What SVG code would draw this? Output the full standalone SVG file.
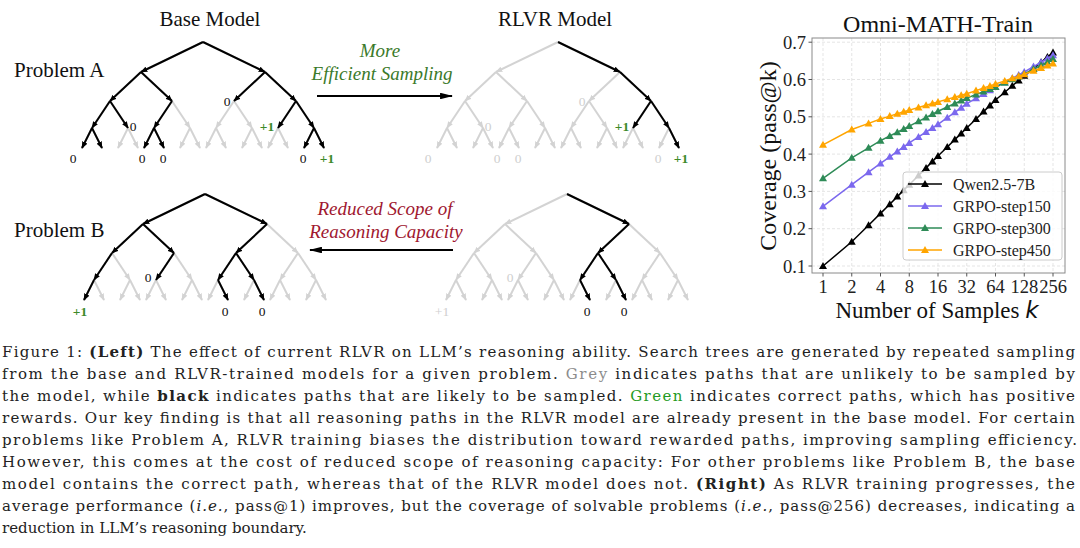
<svg xmlns="http://www.w3.org/2000/svg" xmlns:xlink="http://www.w3.org/1999/xlink" width="1080" height="548" viewBox="0 0 1080 548">
<style>
.k{stroke:#000;stroke-width:2;marker-end:url(#ahk)}
.lbl{font-family:"Liberation Serif",serif;font-size:13.5px;text-anchor:middle;opacity:0.999}
.lk{fill:#111}
.lg{fill:#cfcfcf}
.lp{fill:#3d8a2a;font-weight:bold}
.ttl{font-family:"Liberation Serif",serif;font-size:21px;fill:#111}
.it{font-family:"Liberation Serif",serif;font-size:19px;font-style:italic;text-anchor:middle}
.tick{font-family:"Liberation Serif",serif;font-size:18.5px;fill:#222}
.grid{stroke:#dedede;stroke-width:0.8;stroke-dasharray:3,2}
.leg{font-family:"Liberation Serif",serif;font-size:16px;fill:#222}
.cap{font-family:"DejaVu Serif",serif;font-size:15px;fill:#222}
</style>
<defs>
<marker id="ahk" viewBox="0 0 10 8" refX="9" refY="4" markerWidth="7" markerHeight="6" markerUnits="userSpaceOnUse" orient="auto"><path d="M0,0 L10,4 L0,8 z" fill="#000"/></marker>
<marker id="ahg" viewBox="0 0 10 8" refX="9" refY="4" markerWidth="7" markerHeight="6" markerUnits="userSpaceOnUse" orient="auto"><path d="M0,0 L10,4 L0,8 z" fill="#d3d3d3"/></marker>
<marker id="ahbig" viewBox="0 0 12 6" refX="11" refY="3" markerWidth="13" markerHeight="6.5" markerUnits="userSpaceOnUse" orient="auto"><path d="M0,0 L12,3 L0,6 z" fill="#000"/></marker>
<marker id="mk" viewBox="-5 -5 10 10" refX="0" refY="0" markerWidth="10" markerHeight="10" markerUnits="userSpaceOnUse" orient="0"><path d="M0,-4 L4,3 L-4,3 z" fill="#000"/></marker>
<marker id="mp" viewBox="-5 -5 10 10" refX="0" refY="0" markerWidth="10" markerHeight="10" markerUnits="userSpaceOnUse" orient="0"><path d="M0,-4 L4,3 L-4,3 z" fill="#7b68ee"/></marker>
<marker id="mg" viewBox="-5 -5 10 10" refX="0" refY="0" markerWidth="10" markerHeight="10" markerUnits="userSpaceOnUse" orient="0"><path d="M0,-4 L4,3 L-4,3 z" fill="#2e8b57"/></marker>
<marker id="mo" viewBox="-5 -5 10 10" refX="0" refY="0" markerWidth="10" markerHeight="10" markerUnits="userSpaceOnUse" orient="0"><path d="M0,-4 L4,3 L-4,3 z" fill="#ffa500"/></marker>
<g id="tree" stroke="#d3d3d3" stroke-width="2" marker-end="url(#ahg)">
<line x1="203" y1="42" x2="141" y2="72"/>
<line x1="203" y1="42" x2="265" y2="72"/>
<line x1="141" y1="72" x2="110" y2="101"/>
<line x1="141" y1="72" x2="172" y2="101"/>
<line x1="265" y1="72" x2="234" y2="101"/>
<line x1="265" y1="72" x2="296" y2="101"/>
<line x1="110" y1="101" x2="92" y2="128"/>
<line x1="110" y1="101" x2="128" y2="128"/>
<line x1="172" y1="101" x2="154" y2="128"/>
<line x1="172" y1="101" x2="190" y2="128"/>
<line x1="234" y1="101" x2="216" y2="128"/>
<line x1="234" y1="101" x2="252" y2="128"/>
<line x1="296" y1="101" x2="278" y2="128"/>
<line x1="296" y1="101" x2="314" y2="128"/>
<line x1="92" y1="128" x2="82" y2="148"/>
<line x1="92" y1="128" x2="102" y2="148"/>
<line x1="128" y1="128" x2="118" y2="148"/>
<line x1="128" y1="128" x2="138" y2="148"/>
<line x1="154" y1="128" x2="144" y2="148"/>
<line x1="154" y1="128" x2="164" y2="148"/>
<line x1="190" y1="128" x2="180" y2="148"/>
<line x1="190" y1="128" x2="200" y2="148"/>
<line x1="216" y1="128" x2="206" y2="148"/>
<line x1="216" y1="128" x2="226" y2="148"/>
<line x1="252" y1="128" x2="242" y2="148"/>
<line x1="252" y1="128" x2="262" y2="148"/>
<line x1="278" y1="128" x2="268" y2="148"/>
<line x1="278" y1="128" x2="288" y2="148"/>
<line x1="314" y1="128" x2="304" y2="148"/>
<line x1="314" y1="128" x2="324" y2="148"/>
</g>
</defs>

<text class="ttl" x="210" y="26" text-anchor="middle">Base Model</text>
<text class="ttl" x="555" y="26" text-anchor="middle">RLVR Model</text>
<text class="ttl" x="14" y="77">Problem A</text>
<text class="ttl" x="14" y="237">Problem B</text>

<g id="base-a">
<use xlink:href="#tree" href="#tree"/>
<line class="k" x1="203" y1="42" x2="141" y2="72"/>
<line class="k" x1="203" y1="42" x2="265" y2="72"/>
<line class="k" x1="141" y1="72" x2="110" y2="101"/>
<line class="k" x1="141" y1="72" x2="172" y2="101"/>
<line class="k" x1="265" y1="72" x2="234" y2="101"/>
<line class="k" x1="265" y1="72" x2="296" y2="101"/>
<line class="k" x1="110" y1="101" x2="92" y2="128"/>
<line class="k" x1="110" y1="101" x2="128" y2="128"/>
<line class="k" x1="172" y1="101" x2="154" y2="128"/>
<line class="k" x1="296" y1="101" x2="278" y2="128"/>
<line class="k" x1="296" y1="101" x2="314" y2="128"/>
<line class="k" x1="92" y1="128" x2="82" y2="148"/>
<line class="k" x1="92" y1="128" x2="102" y2="148"/>
<line class="k" x1="154" y1="128" x2="144" y2="148"/>
<line class="k" x1="154" y1="128" x2="164" y2="148"/>
<line class="k" x1="314" y1="128" x2="304" y2="148"/>
<line class="k" x1="314" y1="128" x2="324" y2="148"/>
<text class="lbl lk" x="73" y="163">0</text>
<text class="lbl lk" x="142" y="163">0</text>
<text class="lbl lk" x="163" y="163">0</text>
<text class="lbl lk" x="133" y="131">0</text>
<text class="lbl lk" x="227" y="106">0</text>
<text class="lbl lp" x="267" y="131">+1</text>
<text class="lbl lk" x="303" y="163">0</text>
<text class="lbl lp" x="327" y="163">+1</text>
</g>

<g id="rlvr-a" transform="translate(355,0)">
<use xlink:href="#tree" href="#tree"/>
<line class="k" x1="203" y1="42" x2="265" y2="72"/>
<line class="k" x1="265" y1="72" x2="296" y2="101"/>
<line class="k" x1="296" y1="101" x2="278" y2="128"/>
<line class="k" x1="296" y1="101" x2="314" y2="128"/>
<line class="k" x1="314" y1="128" x2="324" y2="148"/>
<text class="lbl lg" x="73" y="163">0</text>
<text class="lbl lg" x="142" y="163">0</text>
<text class="lbl lg" x="163" y="163">0</text>
<text class="lbl lg" x="133" y="131">0</text>
<text class="lbl lg" x="227" y="106">0</text>
<text class="lbl lp" x="267" y="131">+1</text>
<text class="lbl lg" x="303" y="163">0</text>
<text class="lbl lp" x="326" y="163">+1</text>
</g>

<g id="base-b" transform="translate(2,152)">
<use xlink:href="#tree" href="#tree"/>
<line class="k" x1="203" y1="42" x2="141" y2="72"/>
<line class="k" x1="203" y1="42" x2="265" y2="72"/>
<line class="k" x1="141" y1="72" x2="110" y2="101"/>
<line class="k" x1="141" y1="72" x2="172" y2="101"/>
<line class="k" x1="265" y1="72" x2="234" y2="101"/>
<line class="k" x1="110" y1="101" x2="92" y2="128"/>
<line class="k" x1="172" y1="101" x2="154" y2="128"/>
<line class="k" x1="234" y1="101" x2="216" y2="128"/>
<line class="k" x1="234" y1="101" x2="252" y2="128"/>
<line class="k" x1="92" y1="128" x2="82" y2="148"/>
<line class="k" x1="216" y1="128" x2="226" y2="148"/>
<line class="k" x1="252" y1="128" x2="262" y2="148"/>
<text class="lbl lp" x="78" y="164">+1</text>
<text class="lbl lk" x="146" y="130">0</text>
<text class="lbl lk" x="223" y="164">0</text>
<text class="lbl lk" x="260" y="164">0</text>
</g>

<g id="rlvr-b" transform="translate(364,152)">
<use xlink:href="#tree" href="#tree"/>
<line class="k" x1="203" y1="42" x2="265" y2="72"/>
<line class="k" x1="265" y1="72" x2="234" y2="101"/>
<line class="k" x1="234" y1="101" x2="216" y2="128"/>
<line class="k" x1="234" y1="101" x2="252" y2="128"/>
<line class="k" x1="216" y1="128" x2="226" y2="148"/>
<line class="k" x1="252" y1="128" x2="262" y2="148"/>
<text class="lbl lg" x="78" y="164">+1</text>
<text class="lbl lg" x="146" y="130">0</text>
<text class="lbl lk" x="223" y="164">0</text>
<text class="lbl lk" x="260" y="164">0</text>
</g>

<g id="connectors">
<line x1="317" y1="96" x2="452" y2="96" stroke="#000" stroke-width="1.8" marker-end="url(#ahbig)"/>
<line x1="453" y1="250" x2="310" y2="250" stroke="#000" stroke-width="1.8" marker-end="url(#ahbig)"/>
</g>
<g id="arrow-labels">
<text class="it" x="380" y="57" fill="#3b7a2a">More</text>
<text class="it" x="382" y="80" fill="#3b7a2a">Efficient Sampling</text>
<text class="it" x="385" y="215" fill="#a01830">Reduced Scope of</text>
<text class="it" x="386" y="238" fill="#a01830">Reasoning Capacity</text>
</g>

<g id="chart">
<text x="938" y="32" text-anchor="middle" font-family="Liberation Serif, serif" font-size="24" fill="#111">Omni-MATH-Train</text>
<g class="grid">
<line x1="812" y1="266" x2="1065" y2="266"/>
<line x1="812" y1="228.7" x2="1065" y2="228.7"/>
<line x1="812" y1="191.4" x2="1065" y2="191.4"/>
<line x1="812" y1="154.1" x2="1065" y2="154.1"/>
<line x1="812" y1="116.8" x2="1065" y2="116.8"/>
<line x1="812" y1="79.5" x2="1065" y2="79.5"/>
<line x1="812" y1="42.2" x2="1065" y2="42.2"/>
<line x1="823" y1="38" x2="823" y2="273"/>
<line x1="851.75" y1="38" x2="851.75" y2="273"/>
<line x1="880.5" y1="38" x2="880.5" y2="273"/>
<line x1="909.25" y1="38" x2="909.25" y2="273"/>
<line x1="938" y1="38" x2="938" y2="273"/>
<line x1="966.75" y1="38" x2="966.75" y2="273"/>
<line x1="995.5" y1="38" x2="995.5" y2="273"/>
<line x1="1024.25" y1="38" x2="1024.25" y2="273"/>
<line x1="1053" y1="38" x2="1053" y2="273"/>
</g>
<rect x="812" y="38" width="253" height="235" fill="none" stroke="#8a8a8a" stroke-width="1"/>
<g stroke="#555" stroke-width="1">
<line x1="808.5" y1="266" x2="812" y2="266"/>
<line x1="808.5" y1="228.7" x2="812" y2="228.7"/>
<line x1="808.5" y1="191.4" x2="812" y2="191.4"/>
<line x1="808.5" y1="154.1" x2="812" y2="154.1"/>
<line x1="808.5" y1="116.8" x2="812" y2="116.8"/>
<line x1="808.5" y1="79.5" x2="812" y2="79.5"/>
<line x1="808.5" y1="42.2" x2="812" y2="42.2"/>
<line x1="823" y1="273" x2="823" y2="276.5"/>
<line x1="851.75" y1="273" x2="851.75" y2="276.5"/>
<line x1="880.5" y1="273" x2="880.5" y2="276.5"/>
<line x1="909.25" y1="273" x2="909.25" y2="276.5"/>
<line x1="938" y1="273" x2="938" y2="276.5"/>
<line x1="966.75" y1="273" x2="966.75" y2="276.5"/>
<line x1="995.5" y1="273" x2="995.5" y2="276.5"/>
<line x1="1024.25" y1="273" x2="1024.25" y2="276.5"/>
<line x1="1053" y1="273" x2="1053" y2="276.5"/>
</g>
<g class="tick" text-anchor="end">
<text x="806" y="272.5">0.1</text>
<text x="806" y="235.2">0.2</text>
<text x="806" y="197.9">0.3</text>
<text x="806" y="160.6">0.4</text>
<text x="806" y="123.3">0.5</text>
<text x="806" y="86">0.6</text>
<text x="806" y="48.7">0.7</text>
</g>
<g class="tick" text-anchor="middle">
<text x="823" y="293">1</text>
<text x="851.75" y="293">2</text>
<text x="880.5" y="293">4</text>
<text x="909.25" y="293">8</text>
<text x="938" y="293">16</text>
<text x="966.75" y="293">32</text>
<text x="995.5" y="293">64</text>
<text x="1024.25" y="293">128</text>
<text x="1053" y="293">256</text>
</g>
<text x="937" y="318" text-anchor="middle" font-family="Liberation Serif, serif" font-size="23" fill="#111">Number of Samples <tspan font-family="DejaVu Sans, sans-serif" font-style="italic">k</tspan></text>
<text transform="translate(776,156) rotate(-90)" text-anchor="middle" font-family="Liberation Serif, serif" font-size="24" fill="#111">Coverage (pass@k)</text>

<g fill="none" stroke-width="1.5">
<polyline stroke="#000" marker-start="url(#mk)" marker-mid="url(#mk)" marker-end="url(#mk)" points="823,266.0 851.75,241.8 868.57,225.2 880.5,213.4 889.76,204.2 897.32,196.6 903.71,190.2 909.25,184.7 918.51,175.5 926.07,167.9 932.46,161.5 938,156.0 947.26,147.0 954.82,139.6 961.21,133.4 966.75,128.0 976.01,119.0 983.57,111.6 989.96,105.4 995.5,100.0 1004.76,92.2 1012.32,85.8 1018.71,80.5 1024.25,75.8 1033.51,68.3 1041.07,62.2 1047.46,57.1 1053,52.6"/>
<polyline stroke="#7b68ee" marker-start="url(#mp)" marker-mid="url(#mp)" marker-end="url(#mp)" points="823,206.3 851.75,184.7 868.57,172.2 880.5,163.4 889.76,156.8 897.32,151.4 903.71,146.9 909.25,142.9 918.51,136.9 926.07,132.0 932.46,127.9 938,124.3 947.26,117.7 954.82,112.3 961.21,107.7 966.75,103.7 976.01,98.3 983.57,93.9 989.96,90.2 995.5,87.0 1004.76,82.2 1012.32,78.2 1018.71,74.9 1024.25,72.0 1033.51,66.6 1041.07,62.2 1047.46,58.5 1053,55.3"/>
<polyline stroke="#2e8b57" marker-start="url(#mg)" marker-mid="url(#mg)" marker-end="url(#mg)" points="823,178.3 851.75,157.8 868.57,147.8 880.5,140.7 889.76,136.0 897.32,132.2 903.71,128.9 909.25,126.1 918.51,121.3 926.07,117.4 932.46,114.1 938,111.2 947.26,107.0 954.82,103.5 961.21,100.6 966.75,98.1 976.01,94.5 983.57,91.6 989.96,89.1 995.5,87.0 1004.76,82.8 1012.32,79.3 1018.71,76.4 1024.25,73.9 1033.51,69.1 1041.07,65.2 1047.46,61.9 1053,59.0"/>
<polyline stroke="#ffa500" marker-start="url(#mo)" marker-mid="url(#mo)" marker-end="url(#mo)" points="823,144.8 851.75,129.5 868.57,123.4 880.5,119.0 889.76,116.1 897.32,113.8 903.71,111.8 909.25,110.1 918.51,107.5 926.07,105.3 932.46,103.5 938,101.9 947.26,99.3 954.82,97.1 961.21,95.3 966.75,93.7 976.01,90.6 983.57,88.0 989.96,85.9 995.5,84.0 1004.76,80.9 1012.32,78.3 1018.71,76.2 1024.25,74.3 1033.51,70.8 1041.07,68.0 1047.46,65.6 1053,63.5"/>
</g>

<g id="legend">
<rect x="903" y="172" width="159" height="88" rx="3" fill="#fff" fill-opacity="0.8" stroke="#cccccc" stroke-width="1"/>
<polyline points="908,184 925,184 942,184" fill="none" stroke="#000" stroke-width="1.5" marker-mid="url(#mk)"/>
<polyline points="908,206 925,206 942,206" fill="none" stroke="#7b68ee" stroke-width="1.5" marker-mid="url(#mp)"/>
<polyline points="908,228 925,228 942,228" fill="none" stroke="#2e8b57" stroke-width="1.5" marker-mid="url(#mg)"/>
<polyline points="908,250 925,250 942,250" fill="none" stroke="#ffa500" stroke-width="1.5" marker-mid="url(#mo)"/>
<text class="leg" x="953" y="189.5">Qwen2.5-7B</text>
<text class="leg" x="953" y="211.5">GRPO-step150</text>
<text class="leg" x="953" y="233.5">GRPO-step300</text>
<text class="leg" x="953" y="255.5">GRPO-step450</text>
</g>
</g>

<g id="caption" class="cap">
<text x="2" y="356.5" textLength="1073" lengthAdjust="spacing">Figure 1: <tspan font-weight="bold">(Left)</tspan> The effect of current RLVR on LLM’s reasoning ability. Search trees are generated by repeated sampling</text>
<text x="2" y="378.6" textLength="1073" lengthAdjust="spacing">from the base and RLVR-trained models for a given problem. <tspan fill="#8c8c8c">Grey</tspan> indicates paths that are unlikely to be sampled by</text>
<text x="2" y="400.7" textLength="1073" lengthAdjust="spacing">the model, while <tspan font-weight="bold">black</tspan> indicates paths that are likely to be sampled. <tspan fill="#239a23">Green</tspan> indicates correct paths, which has positive</text>
<text x="2" y="422.8" textLength="1073" lengthAdjust="spacing">rewards. Our key finding is that all reasoning paths in the RLVR model are already present in the base model. For certain</text>
<text x="2" y="444.9" textLength="1075" lengthAdjust="spacing">problems like Problem A, RLVR training biases the distribution toward rewarded paths, improving sampling efficiency.</text>
<text x="2" y="467" textLength="1073" lengthAdjust="spacing">However, this comes at the cost of reduced scope of reasoning capacity: For other problems like Problem B, the base</text>
<text x="2" y="489.1" textLength="1073" lengthAdjust="spacing">model contains the correct path, whereas that of the RLVR model does not. <tspan font-weight="bold">(Right)</tspan> As RLVR training progresses, the</text>
<text x="2" y="511.2" textLength="1073" lengthAdjust="spacing">average performance (<tspan font-style="italic">i.e.</tspan>, pass@1) improves, but the coverage of solvable problems (<tspan font-style="italic">i.e.</tspan>, pass@256) decreases, indicating a</text>
<text x="2" y="533.3">reduction in LLM’s reasoning boundary.</text>
</g>
</svg>
